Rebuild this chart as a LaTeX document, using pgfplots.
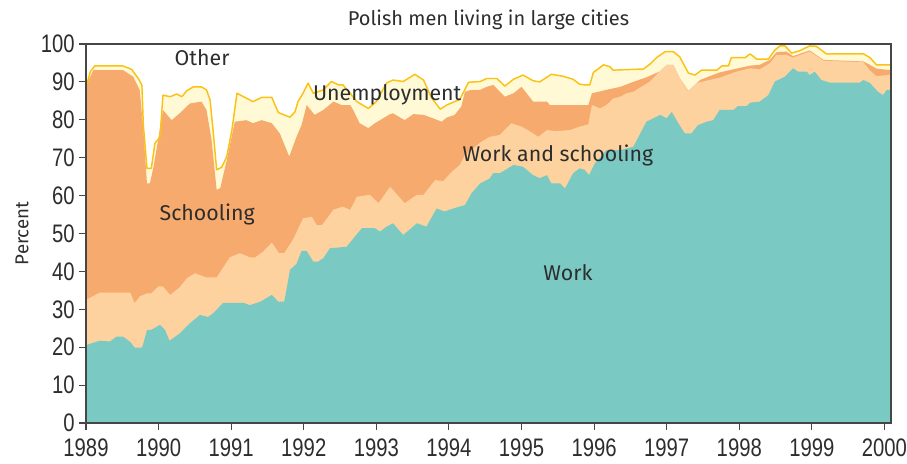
\documentclass[border=0pt]{standalone}
\usepackage{fontspec}
\setmainfont{Fira Sans}
\newfontfamily\tickfont{Liberation Sans}[FakeStretch=0.8]
\usepackage{pgfplots}
\usepackage{pgfplotstable}
\pgfplotsset{compat=1.18}
\definecolor{cwork}{RGB}{122,202,195}
\definecolor{cws}{RGB}{253,210,158}
\definecolor{csch}{RGB}{247,170,110}
\definecolor{cunemp}{RGB}{255,249,214}
\definecolor{cgold}{RGB}{250,194,20}
\definecolor{ctext}{RGB}{45,45,45}
\definecolor{caxis}{RGB}{70,70,70}

\pgfplotstableread{
x y
1989.00 20.4
1989.01 20.6
1989.19 21.7
1989.33 21.5
1989.42 22.8
1989.51 22.8
1989.61 21.4
1989.67 19.9
1989.77 19.9
1989.79 21.0
1989.84 24.5
1989.90 24.6
1990.02 25.9
1990.09 24.5
1990.15 21.7
1990.29 23.6
1990.43 26.3
1990.57 28.5
1990.68 28.0
1990.75 28.9
1990.89 31.7
1991.17 31.7
1991.26 31.1
1991.40 32.0
1991.56 33.8
1991.65 32.0
1991.73 32.0
1991.76 35.0
1991.81 40.4
1991.90 42.0
1991.97 45.4
1992.04 45.4
1992.13 42.6
1992.20 42.6
1992.27 43.5
1992.36 46.1
1992.59 46.5
1992.80 51.4
1992.98 51.4
1993.05 50.5
1993.14 51.8
1993.23 52.7
1993.37 49.6
1993.56 52.7
1993.69 51.8
1993.83 56.6
1993.94 55.8
1994.06 56.6
1994.22 57.5
1994.31 60.6
1994.43 63.2
1994.56 64.5
1994.61 65.9
1994.70 65.9
1994.89 68.1
1995.02 67.6
1995.16 65.4
1995.25 64.6
1995.35 65.4
1995.41 63.2
1995.53 63.2
1995.60 61.9
1995.71 65.9
1995.80 67.2
1995.87 66.8
1995.93 65.4
1996.01 68.5
1996.17 72.0
1996.36 72.0
1996.54 72.9
1996.72 79.5
1996.91 81.3
1997.00 80.4
1997.07 82.1
1997.16 79.1
1997.25 76.4
1997.34 76.4
1997.43 78.6
1997.55 79.5
1997.64 79.9
1997.73 82.6
1997.92 82.6
1997.98 83.6
1998.10 83.6
1998.15 84.5
1998.28 84.8
1998.40 86.5
1998.49 90.1
1998.63 91.4
1998.74 93.6
1998.81 92.7
1998.93 92.7
1998.97 91.8
1999.04 92.7
1999.13 90.5
1999.25 89.8
1999.66 89.8
1999.71 90.5
1999.80 89.7
1999.91 87.4
1999.98 86.5
2000.03 87.9
2000.09 87.9
}\tabWork

\pgfplotstableread{
x y
1989.00 32.3
1989.01 32.6
1989.19 34.4
1989.61 34.4
1989.67 31.6
1989.74 33.4
1989.84 34.2
1989.90 34.2
1990.00 36.1
1990.06 36.0
1990.16 33.8
1990.29 35.8
1990.39 38.2
1990.50 39.5
1990.66 38.4
1990.80 38.4
1990.98 43.7
1991.12 44.8
1991.26 43.7
1991.33 43.7
1991.44 45.2
1991.56 47.6
1991.66 44.8
1991.73 44.8
1991.86 48.7
1991.99 54.0
1992.11 54.4
1992.18 52.2
1992.25 52.2
1992.41 56.3
1992.54 57.1
1992.64 56.2
1992.73 59.7
1992.91 60.2
1993.03 58.0
1993.19 62.3
1993.21 61.9
1993.39 58.0
1993.56 60.2
1993.65 60.2
1993.81 64.1
1993.92 63.8
1994.04 66.3
1994.15 68.1
1994.22 70.7
1994.31 72.0
1994.43 74.0
1994.56 75.5
1994.70 76.0
1994.86 79.1
1995.00 78.2
1995.12 76.9
1995.23 75.5
1995.35 77.3
1995.48 77.0
1995.67 77.3
1995.80 78.2
1995.92 78.8
1995.97 83.9
1996.08 83.0
1996.17 83.9
1996.26 85.6
1996.36 86.1
1996.45 87.0
1996.54 87.4
1996.65 88.7
1996.77 90.1
1996.88 92.3
1997.00 94.5
1997.09 94.5
1997.18 91.0
1997.30 87.4
1997.41 89.7
1997.59 90.5
1997.73 91.1
1997.96 92.7
1998.15 93.6
1998.28 93.3
1998.42 94.9
1998.51 97.1
1998.65 97.1
1998.74 96.4
1998.97 98.0
1999.16 95.6
1999.71 95.2
1999.80 93.0
1999.89 91.5
2000.03 91.8
2000.09 92.0
}\tabWS

\pgfplotstableread{
x y
1989.00 88.5
1989.01 89.2
1989.10 93.1
1989.51 93.1
1989.65 91.4
1989.74 87.9
1989.79 77.3
1989.84 63.2
1989.88 63.2
1989.93 67.6
1990.00 75.5
1990.06 82.6
1990.18 79.9
1990.29 81.7
1990.43 84.3
1990.59 84.8
1990.66 82.6
1990.73 74.7
1990.80 61.5
1990.85 62.0
1990.94 69.4
1991.05 79.5
1991.21 79.9
1991.30 79.1
1991.42 79.9
1991.56 79.1
1991.67 76.4
1991.80 70.3
1991.90 75.5
1991.97 78.6
1992.04 83.9
1992.15 81.3
1992.27 82.6
1992.41 84.8
1992.52 83.9
1992.64 83.9
1992.68 82.6
1992.77 79.1
1992.89 77.8
1992.98 79.1
1993.05 79.9
1993.19 81.5
1993.23 81.7
1993.39 79.9
1993.51 81.5
1993.65 81.3
1993.78 80.4
1993.90 79.5
1993.97 80.6
1994.08 81.3
1994.17 83.5
1994.22 87.4
1994.31 87.9
1994.43 87.9
1994.52 88.7
1994.61 89.2
1994.77 86.1
1994.89 87.0
1995.00 88.7
1995.16 84.8
1995.35 84.8
1995.39 83.9
1995.92 83.9
1995.97 87.0
1996.17 87.9
1996.36 88.7
1996.54 90.0
1996.72 91.2
1996.91 92.8
1997.00 94.5
1997.09 94.5
1997.18 91.0
1997.30 87.6
1997.46 90.5
1997.59 91.5
1997.73 92.5
1997.96 93.5
1998.15 94.3
1998.28 94.5
1998.42 95.8
1998.51 97.8
1998.65 98.0
1998.74 96.8
1998.97 98.3
1999.16 95.8
1999.71 95.4
1999.80 94.5
1999.89 93.5
2000.03 93.2
2000.09 93.2
}\tabSch

\pgfplotstableread{
x y
1989.00 88.5
1989.01 89.2
1989.06 92.7
1989.12 94.2
1989.51 94.2
1989.63 93.3
1989.72 90.9
1989.77 89.2
1989.79 78.6
1989.84 67.2
1989.90 67.2
1989.95 73.8
1990.02 75.5
1990.06 86.5
1990.16 86.1
1990.25 86.8
1990.32 86.1
1990.39 87.7
1990.48 88.7
1990.59 88.7
1990.66 87.9
1990.71 85.2
1990.75 77.3
1990.80 66.8
1990.87 67.5
1990.94 70.3
1991.01 77.3
1991.08 87.0
1991.17 86.1
1991.30 84.8
1991.42 85.9
1991.56 85.9
1991.65 81.9
1991.81 80.7
1991.88 82.1
1991.92 84.8
1991.99 87.0
1992.06 89.7
1992.13 87.0
1992.27 87.9
1992.38 90.1
1992.48 89.2
1992.54 89.2
1992.64 87.0
1992.73 84.8
1992.89 83.0
1993.00 84.8
1993.14 89.7
1993.23 90.5
1993.37 90.1
1993.53 92.0
1993.65 90.5
1993.76 85.8
1993.88 82.8
1993.97 83.9
1994.15 85.4
1994.27 89.9
1994.43 90.1
1994.52 90.9
1994.66 90.9
1994.77 88.9
1994.89 90.7
1995.02 91.8
1995.16 90.3
1995.25 90.0
1995.41 92.0
1995.57 91.5
1995.71 90.7
1995.80 89.4
1995.87 89.2
1995.94 89.2
1995.99 92.5
1996.13 94.5
1996.22 94.0
1996.26 93.1
1996.68 93.4
1996.77 94.7
1996.86 96.4
1996.98 98.0
1997.09 98.0
1997.18 96.6
1997.30 92.3
1997.39 91.8
1997.48 93.1
1997.69 93.1
1997.76 94.2
1997.85 94.2
1997.89 96.4
1998.08 96.4
1998.15 97.4
1998.24 96.0
1998.40 96.0
1998.49 98.4
1998.56 99.5
1998.63 99.5
1998.72 97.6
1998.83 98.2
1998.97 99.5
1999.06 99.4
1999.20 97.4
1999.71 97.4
1999.80 96.4
1999.89 94.5
2000.09 94.5
}\tabUnemp

\begin{document}
\begin{tikzpicture}
\path[use as bounding box] (-64.5pt,-30.75pt) rectangle (615.75pt,317.25pt);
\begin{axis}[
  scale only axis,
  width=603.75pt, height=284.25pt,
  xmin=1989, xmax=2000.09, ymin=0, ymax=100,
  xtick={1989,1990,...,2000},
  ytick={0,10,...,100},
  tick align=outside,
  tick pos=left,
  major tick length=5pt,
  axis on top,
  axis line style={caxis, line width=0.8pt},
  every tick/.style={caxis, line width=0.8pt},
  /pgf/number format/1000 sep={},
  /pgf/number format/assume math mode=true,
  ticklabel style={font=\fontsize{19}{20}\selectfont\tickfont, text=ctext},
  xticklabel style={yshift=-3pt},
  ylabel={Percent},
  every axis y label/.style={at={(axis description cs:-0.0795,0.5)}, rotate=90, anchor=center, font=\fontsize{14}{16}\selectfont, text=ctext},
  clip=true,
]
\addplot[fill=cunemp, draw=none] table {\tabUnemp} \closedcycle;
\addplot[fill=csch, draw=none] table {\tabSch} \closedcycle;
\addplot[fill=cws, draw=none] table {\tabWS} \closedcycle;
\addplot[fill=cwork, draw=none] table {\tabWork} \closedcycle;
\addplot[cgold, line width=1.1pt, line join=round] table {\tabUnemp};

\begin{scope}[every node/.style={font=\fontsize{16}{18}\selectfont, text=ctext}]
\node at (axis cs:1990.6,96.3) {Other};
\node at (axis cs:1993.15,86.5) {Unemployment};
\node at (axis cs:1995.5,70.7) {Work and schooling};
\node at (axis cs:1990.67,54.9) {Schooling};
\node at (axis cs:1995.64,39.6) {Work};
\end{scope}
\end{axis}
\node[font=\fontsize{15}{17}\selectfont, text=ctext, anchor=base] at (301.9pt,298pt) {Polish men living in large cities};
\end{tikzpicture}
\end{document}
